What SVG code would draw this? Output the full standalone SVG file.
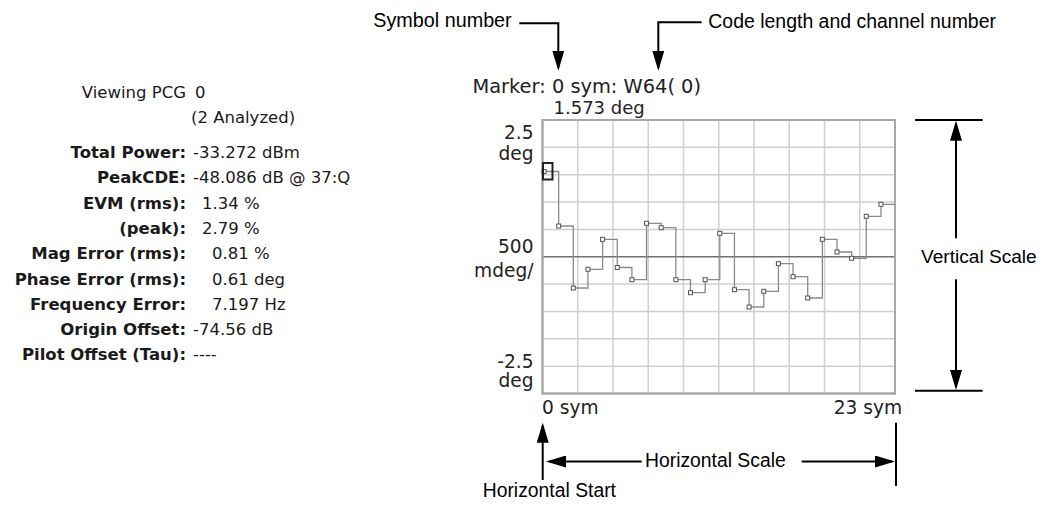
<svg xmlns="http://www.w3.org/2000/svg" width="1042" height="506" viewBox="0 0 1042 506">
<style>
.ro{font-family:"DejaVu Sans",Verdana,sans-serif;font-size:16.5px;fill:#1a1a1a}
.rb{font-weight:bold;text-anchor:end}
.ct{font-family:"DejaVu Sans",Verdana,sans-serif;font-size:18.6px;fill:#222}
.an{font-family:"Liberation Sans",Arial,sans-serif;font-size:19.4px;fill:#000}
.grid{stroke:#cfcfcf;stroke-width:1.5;fill:none}
.frame{stroke:#a8a8a8;stroke-width:2;fill:#fff}
.zero{stroke:#707070;stroke-width:1.5}
.trace{stroke:#8a8a8a;stroke-width:1.3;fill:none}
.mk{stroke:#555;stroke-width:1;fill:#fff}
.con{stroke:#000;stroke-width:2;fill:none}
.arr{marker-end:url(#ah)}
</style>
<defs>
<marker id="ah" viewBox="0 0 20 12" refX="17" refY="6" markerWidth="20" markerHeight="12" markerUnits="userSpaceOnUse" orient="auto">
<path d="M0,0 L20,6 L0,12 z" fill="#000"/>
</marker>
</defs>
<rect width="1042" height="506" fill="#fff"/>

<g id="readout">
<text class="ro" x="186" y="98" text-anchor="end">Viewing PCG</text>
<text class="ro" x="195" y="98">0</text>
<text class="ro" x="191" y="123">(2 Analyzed)</text>
<text class="ro rb" x="186" y="158">Total Power:</text>
<text class="ro" x="193" y="158">-33.272 dBm</text>
<text class="ro rb" x="186" y="183.3">PeakCDE:</text>
<text class="ro" x="193" y="183.3">-48.086 dB @ 37:Q</text>
<text class="ro rb" x="186" y="208.6">EVM (rms):</text>
<text class="ro" x="202" y="208.6">1.34 %</text>
<text class="ro rb" x="186" y="233.9">(peak):</text>
<text class="ro" x="202" y="233.9">2.79 %</text>
<text class="ro rb" x="186" y="259.2">Mag Error (rms):</text>
<text class="ro" x="212" y="259.2">0.81 %</text>
<text class="ro rb" x="186" y="284.5">Phase Error (rms):</text>
<text class="ro" x="212" y="284.5">0.61 deg</text>
<text class="ro rb" x="186" y="309.8">Frequency Error:</text>
<text class="ro" x="212" y="309.8">7.197 Hz</text>
<text class="ro rb" x="186" y="335.1">Origin Offset:</text>
<text class="ro" x="193" y="335.1">-74.56 dB</text>
<text class="ro rb" x="186" y="360.4">Pilot Offset (Tau):</text>
<text class="ro" x="193" y="360.4">----</text>
</g>

<g id="chart">
<rect class="frame" x="542.5" y="120" width="352.5" height="273.5"/>
<path class="grid" d="M577.75,121V392.5M613,121V392.5M648.25,121V392.5M683.5,121V392.5M718.75,121V392.5M754,121V392.5M789.25,121V392.5M824.5,121V392.5M859.75,121V392.5M543.5,147.35H894M543.5,174.7H894M543.5,202.05H894M543.5,229.4H894M543.5,284.1H894M543.5,311.45H894M543.5,338.8H894M543.5,366.15H894"/>
<rect x="542.5" y="120" width="352.5" height="273.5" fill="none" stroke="#a8a8a8" stroke-width="2"/>
<line class="zero" x1="543.5" y1="256.75" x2="894" y2="256.75"/>
<path class="trace" d="M544,171.5H558.65V226H573.3V288H587.95V269.3H602.6V239.3H617.25V267.5H631.9V279.7H646.55V223.3H661.2V227.7H675.85V279.7H690.5V292.7H705.15V279.7H719.8V233.3H734.45V289.7H749.1V307H763.75V291.3H778.4V263.7H793.05V276.7H807.7V298H822.35V239.3H837V252H851.65V258.3H866.3V216.3H880.95V204.3H895"/>
<g class="mk">
<rect x="542" y="169.5" width="4" height="4"/>
<rect x="556.65" y="224" width="4" height="4"/>
<rect x="571.3" y="286" width="4" height="4"/>
<rect x="585.95" y="267.3" width="4" height="4"/>
<rect x="600.6" y="237.3" width="4" height="4"/>
<rect x="615.25" y="265.5" width="4" height="4"/>
<rect x="629.9" y="277.7" width="4" height="4"/>
<rect x="644.55" y="221.3" width="4" height="4"/>
<rect x="659.2" y="225.7" width="4" height="4"/>
<rect x="673.85" y="277.7" width="4" height="4"/>
<rect x="688.5" y="290.7" width="4" height="4"/>
<rect x="703.15" y="277.7" width="4" height="4"/>
<rect x="717.8" y="231.3" width="4" height="4"/>
<rect x="732.45" y="287.7" width="4" height="4"/>
<rect x="747.1" y="305" width="4" height="4"/>
<rect x="761.75" y="289.3" width="4" height="4"/>
<rect x="776.4" y="261.7" width="4" height="4"/>
<rect x="791.05" y="274.7" width="4" height="4"/>
<rect x="805.7" y="296" width="4" height="4"/>
<rect x="820.35" y="237.3" width="4" height="4"/>
<rect x="835" y="250" width="4" height="4"/>
<rect x="849.65" y="256.3" width="4" height="4"/>
<rect x="864.3" y="214.3" width="4" height="4"/>
<rect x="878.95" y="202.3" width="4" height="4"/>
</g>
<rect x="543" y="163" width="9.5" height="16.5" fill="none" stroke="#222" stroke-width="2"/>
<text class="ct" x="472.5" y="93.3" style="font-size:19.4px">Marker: 0 sym: W64( 0)</text>
<text class="ct" x="553.5" y="114.3" style="font-size:18px">1.573 deg</text>
<text class="ct" x="533.5" y="138.7" text-anchor="end">2.5</text>
<text class="ct" x="533.5" y="160" text-anchor="end">deg</text>
<text class="ct" x="533.5" y="253.3" text-anchor="end">500</text>
<text class="ct" x="533.5" y="276.5" text-anchor="end">mdeg/</text>
<text class="ct" x="533.5" y="368.3" text-anchor="end">-2.5</text>
<text class="ct" x="533.5" y="387.3" text-anchor="end">deg</text>
<text class="ct" x="542" y="414.3">0 sym</text>
<text class="ct" x="902" y="413.8" text-anchor="end">23 sym</text>
</g>

<g id="labels">
<text class="an" x="373.3" y="27" textLength="138.4" lengthAdjust="spacingAndGlyphs">Symbol number</text>
<text class="an" x="708.3" y="27.5" textLength="287.7" lengthAdjust="spacingAndGlyphs">Code length and channel number</text>
<text class="an" x="921" y="263.3" style="font-size:18.9px" textLength="115.7" lengthAdjust="spacingAndGlyphs">Vertical Scale</text>
<text class="an" x="645" y="467" textLength="140.7" lengthAdjust="spacingAndGlyphs">Horizontal Scale</text>
<text class="an" x="482.7" y="496.7" textLength="133.3" lengthAdjust="spacingAndGlyphs">Horizontal Start</text>
</g>

<g id="connectors">
<path class="con arr" d="M519.3,23.3H558.3V67.7"/>
<path class="con arr" d="M701.7,22.3H658.3V67.7"/>
<path class="con" d="M915,120H982.7M915,390.7H982.7M896,422.7V486"/>
<path class="con arr" d="M956,238.3V123.7"/>
<path class="con arr" d="M956,279.3V387"/>
<path class="con arr" d="M542.7,480V425.7"/>
<path class="con arr" d="M641.7,461.5H549"/>
<path class="con arr" d="M801.7,461.5H892"/>
</g>
</svg>
